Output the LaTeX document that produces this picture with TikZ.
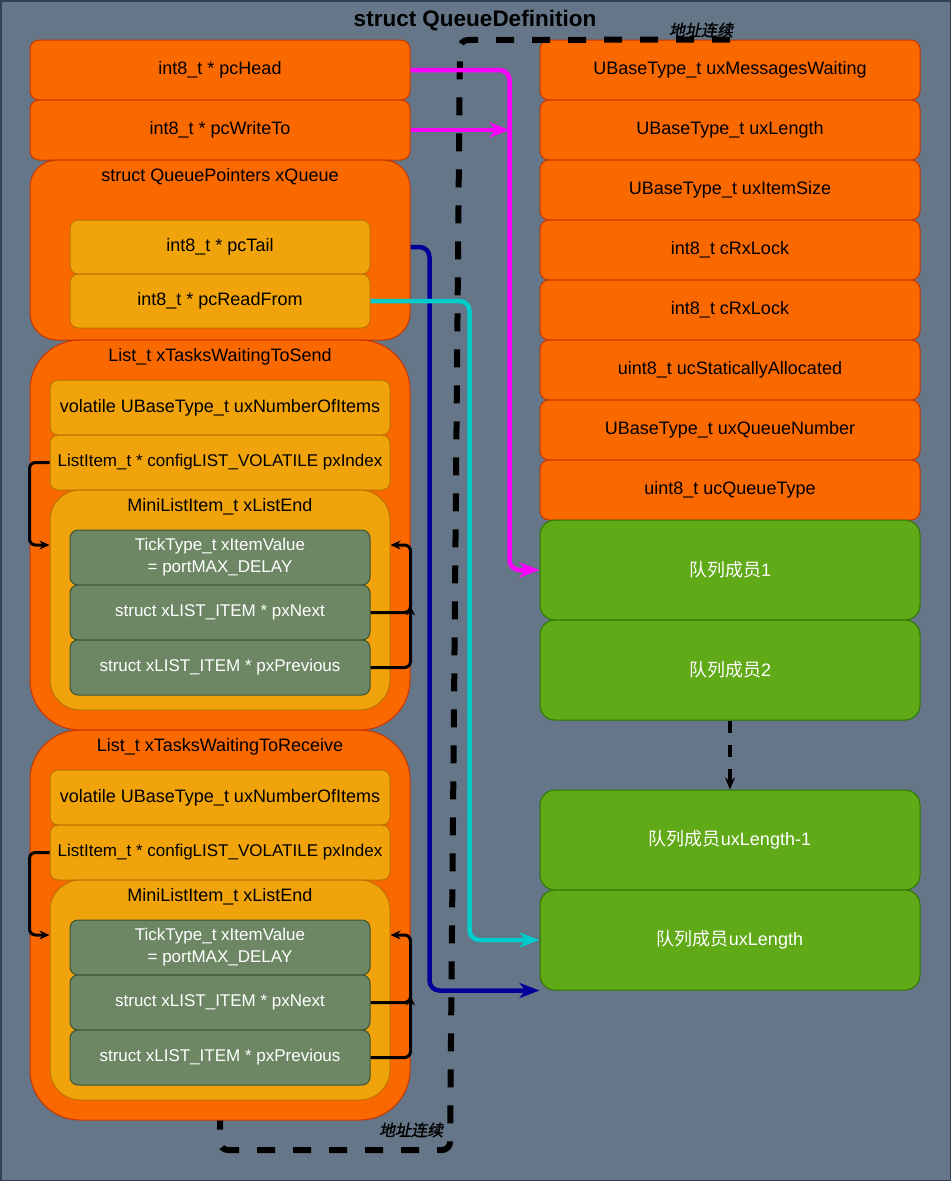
\documentclass[tikz,border=0pt]{standalone}
\usepackage{fontspec}
\setmainfont{Liberation Sans}
\newfontfamily\cjk{Noto Sans CJK SC}
\newfontfamily\cjkbi[FakeSlant=0.2,FakeBold=1.5]{Noto Sans CJK SC}
\usepackage{tikz}
\usetikzlibrary{arrows.meta}
\definecolor{bgfill}{HTML}{647687}
\definecolor{bgline}{HTML}{314354}
\definecolor{orfill}{HTML}{FA6800}
\definecolor{orline}{HTML}{C73500}
\definecolor{amfill}{HTML}{F0A30A}
\definecolor{amline}{HTML}{BD7000}
\definecolor{olfill}{HTML}{6D8764}
\definecolor{olline}{HTML}{3A5431}
\definecolor{grfill}{HTML}{60A917}
\definecolor{grline}{HTML}{2D7600}
\definecolor{magline}{HTML}{FF00FF}
\definecolor{navline}{HTML}{000099}
\definecolor{cyaline}{HTML}{00CCCC}

\begin{document}
\begin{tikzpicture}[x=1pt,y=-1pt,font=\fontsize{18}{21.6}\selectfont]
\tikzstyle{every node}+=[inner sep=0pt]
\tikzstyle{field}=[draw=orline,fill=orfill,line width=1pt,rounded corners=9pt,minimum width=380pt,minimum height=60pt]
\tikzstyle{holder}=[draw=orline,fill=orfill,line width=1pt,minimum width=380pt]
\tikzstyle{inner}=[draw=amline,fill=amfill,line width=1pt,rounded corners=8pt,minimum width=340pt,minimum height=55pt]
\tikzstyle{ptr}=[draw=amline,fill=amfill,line width=1pt,rounded corners=8pt,minimum width=300pt,minimum height=54pt]
\tikzstyle{item}=[draw=olline,fill=olfill,text=white,line width=1pt,rounded corners=8pt,minimum width=300pt,minimum height=55pt,align=center,font=\fontsize{17}{22}\selectfont]
\tikzstyle{member}=[draw=grline,fill=grfill,text=white,line width=1pt,rounded corners=15pt,minimum width=380pt,minimum height=100pt]
\tikzstyle{link}=[line width=3pt,rounded corners=6pt,-{Stealth[length=10pt,width=9pt]}]
\tikzstyle{ptrline}=[line width=4.5pt,rounded corners=10pt,-{Stealth[length=20pt,width=15pt,inset=6pt]}]
\tikzstyle{addr}=[line width=6pt,dash pattern=on 18pt off 18pt,rounded corners=8pt]
\useasboundingbox (0,0) rectangle (951,1181);
\draw[fill=bgfill,draw=bgline,line width=1.5pt] (0.75,0.75) rectangle (950.25,1180.25);
\node[font=\fontsize{22.5}{27}\selectfont\bfseries] (title) at (475,21) {struct QueueDefinition};

\node[field] (pcHead) at (220,70) {int8\_t * pcHead};
\node[field] (pcWriteTo) at (220,130) {int8\_t * pcWriteTo};
\node[holder,minimum height=180pt,rounded corners=27pt] (xQueue) at (220,250) {};
\node (xQueue-t) at (220,177) {struct QueuePointers xQueue};
\node[ptr] (pcTail) at (220,247) {int8\_t * pcTail};
\node[ptr] (pcReadFrom) at (220,301) {int8\_t * pcReadFrom};

\node[holder,minimum height=390pt,rounded corners=50pt] (sendList) at (220,535) {};
\node (sendList-t) at (220,357) {List\_t xTasksWaitingToSend};
\node[inner] (sendNum) at (220,407.5) {volatile UBaseType\_t uxNumberOfItems};
\node[inner,font=\fontsize{17}{20}\selectfont] (sendIdx) at (220,462.5) {ListItem\_t * configLIST\_VOLATILE pxIndex};
\node[inner,minimum height=220pt,rounded corners=30pt] (sendEnd) at (220,600) {};
\node (sendEnd-t) at (220,507) {MiniListItem\_t xListEnd};
\node[item] (sendVal) at (220,557.5) {TickType\_t xItemValue\\= portMAX\_DELAY};
\node[item] (sendNext) at (220,612.5) {struct xLIST\_ITEM * pxNext};
\node[item] (sendPrev) at (220,667.5) {struct xLIST\_ITEM * pxPrevious};

\node[holder,minimum height=390pt,rounded corners=50pt] (recvList) at (220,925) {};
\node (recvList-t) at (220,747) {List\_t xTasksWaitingToReceive};
\node[inner] (recvNum) at (220,797.5) {volatile UBaseType\_t uxNumberOfItems};
\node[inner,font=\fontsize{17}{20}\selectfont] (recvIdx) at (220,852.5) {ListItem\_t * configLIST\_VOLATILE pxIndex};
\node[inner,minimum height=220pt,rounded corners=30pt] (recvEnd) at (220,990) {};
\node (recvEnd-t) at (220,897) {MiniListItem\_t xListEnd};
\node[item] (recvVal) at (220,947.5) {TickType\_t xItemValue\\= portMAX\_DELAY};
\node[item] (recvNext) at (220,1002.5) {struct xLIST\_ITEM * pxNext};
\node[item] (recvPrev) at (220,1057.5) {struct xLIST\_ITEM * pxPrevious};

\node[field] (msgWaiting) at (730,70) {UBaseType\_t uxMessagesWaiting};
\node[field] (length) at (730,130) {UBaseType\_t uxLength};
\node[field] (itemSize) at (730,190) {UBaseType\_t uxItemSize};
\node[field] (rxLock) at (730,250) {int8\_t cRxLock};
\node[field] (txLock) at (730,310) {int8\_t cRxLock};
\node[field] (statAlloc) at (730,370) {uint8\_t ucStaticallyAllocated};
\node[field] (queueNum) at (730,430) {UBaseType\_t uxQueueNumber};
\node[field] (queueType) at (730,490) {uint8\_t ucQueueType};
\node[member] (item1) at (730,570) {{\cjk 队列成员}1};
\node[member] (item2) at (730,670) {{\cjk 队列成员}2};
\node[member] (itemN1) at (730,840) {{\cjk 队列成员}uxLength-1};
\node[member] (itemN) at (730,940) {{\cjk 队列成员}uxLength};

\draw[addr] (msgWaiting.north) -- (460,40) -- (450,1150) -- (220,1150) -- (recvList.south);
\node[font=\fontsize{16}{19}\cjkbi] (addr-top) at (701,30) {地址连续};
\node[font=\fontsize{16}{19}\cjkbi] (addr-bot) at (411,1130) {地址连续};
\draw[line width=4pt,dash pattern=on 12pt off 12pt,-{Stealth[length=12pt,width=10pt]}] (item2.south) -- (itemN1.north);

\draw[link] (sendIdx.west) -- ++(-20,0) |- ([yshift=55pt]sendEnd.west);
\draw[link] (sendNext.east) -- ++(40,0) |- ([yshift=55pt]sendEnd.east);
\draw[link] (sendPrev.east) -- ++(40,0) -- ++(0,-62);
\draw[link] (recvIdx.west) -- ++(-20,0) |- ([yshift=55pt]recvEnd.west);
\draw[link] (recvNext.east) -- ++(40,0) |- ([yshift=55pt]recvEnd.east);
\draw[link] (recvPrev.east) -- ++(40,0) -- ++(0,-62);

\draw[ptrline,magline] (pcHead.east) -| ([xshift=-30pt]item1.west) -- (item1.west);
\draw[ptrline,magline] (pcWriteTo.east) -- ([xshift=-30pt]item1.west |- pcWriteTo.east);
\draw[ptrline,navline] (pcTail.east -| xQueue.east) -| ([xshift=-110pt]itemN.south west) -- (itemN.south west);
\draw[ptrline,cyaline] (pcReadFrom.east) -| ([xshift=-70pt]itemN.west) -- (itemN.west);
\end{tikzpicture}
\end{document}
